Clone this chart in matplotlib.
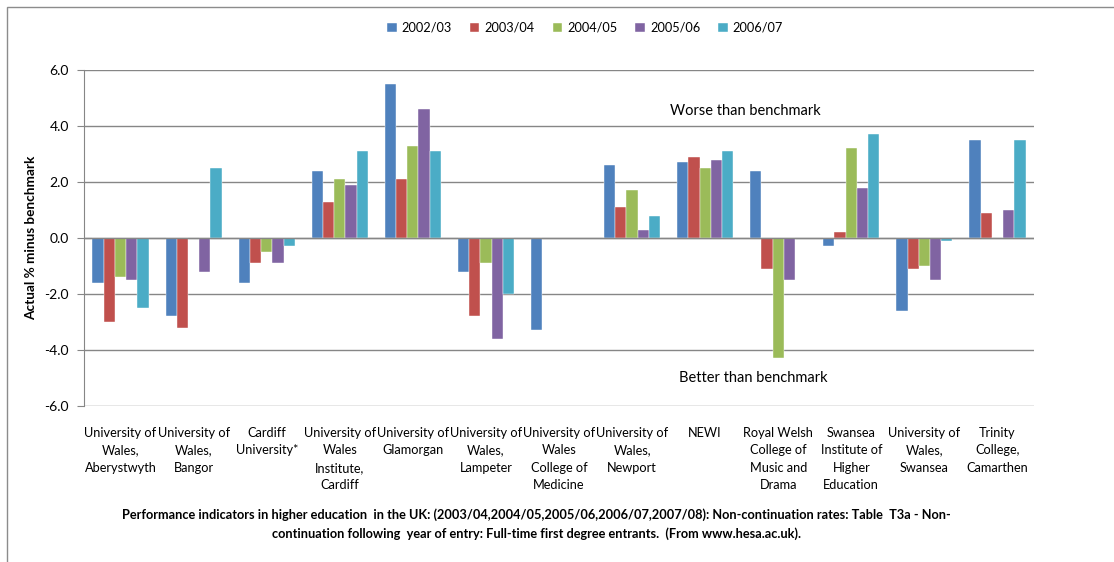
import numpy as np
import matplotlib.pyplot as plt
from matplotlib.patches import Rectangle

plt.rcParams['font.family'] = ['Lato', 'DejaVu Sans']

institutions = [
    'University of\nWales,\nAberystwyth',
    'University of\nWales,\nBangor',
    'Cardiff\nUniversity*',
    'University of\nWales\nInstitute,\nCardiff',
    'University of\nGlamorgan',
    'University of\nWales,\nLampeter',
    'University of\nWales\nCollege of\nMedicine',
    'University of\nWales,\nNewport',
    'NEWI',
    'Royal Welsh\nCollege of\nMusic and\nDrama',
    'Swansea\nInstitute of\nHigher\nEducation',
    'University of\nWales,\nSwansea',
    'Trinity\nCollege,\nCamarthen',
]
years = ['2002/03', '2003/04', '2004/05', '2005/06', '2006/07']
nan = np.nan
y2002 = [-1.6, -2.8, -1.6, 2.4, 5.5, -1.2, -3.3, 2.6, 2.7, 2.4, -0.3, -2.6, 3.5]
y2003 = [-3.0, -3.2, -0.9, 1.3, 2.1, -2.8, nan, 1.1, 2.9, -1.1, 0.2, -1.1, 0.9]
y2004 = [-1.4, nan, -0.5, 2.1, 3.3, -0.9, nan, 1.7, 2.5, -4.3, 3.2, -1.0, nan]
y2005 = [-1.5, -1.2, -0.9, 1.9, 4.6, -3.6, nan, 0.3, 2.8, -1.5, 1.8, -1.5, 1.0]
y2006 = [-2.5, 2.5, -0.3, 3.1, 3.1, -2.0, nan, 0.8, 3.1, nan, 3.7, -0.1, 3.5]
series = [y2002, y2003, y2004, y2005, y2006]
colors = ['#4F81BD', '#C0504D', '#9BBB59', '#8064A2', '#4BACC6']

caption = ('Performance indicators in higher education  in the UK: (2003/04,2004/05,2005/06,2006/07,2007/08): '
           'Non-continuation rates: Table  T3a - Non-\ncontinuation following  year of entry: Full-time first '
           'degree entrants.  (From www.hesa.ac.uk).')

W, H = 1114, 562
fig = plt.figure(figsize=(W / 100, H / 100), dpi=100)
ax = fig.add_axes([84 / W, 1 - 406 / H, (1034 - 84) / W, (406 - 70) / H])

# chart area border (runs off the right/bottom edge in the original)
fig.patches.append(Rectangle((7 / W, -0.1), 1.2, 1 - 7 / H + 0.1, transform=fig.transFigure,
                             fill=False, edgecolor='#8c8c8c', linewidth=1))

x = np.arange(len(institutions))
bw = 1 / 6.5
for i, (vals, c, lab) in enumerate(zip(series, colors, years)):
    ax.bar(x + (i - 2) * bw, vals, bw, color=c, label=lab, edgecolor='white', linewidth=0.3, zorder=3)

ax.set_xlim(-0.5, len(institutions) - 0.5)
ax.set_ylim(-6, 6)
ax.set_yticks(np.arange(-6, 6.1, 2))
ax.set_yticklabels([f'{v:.1f}' for v in np.arange(-6, 6.1, 2)], fontsize=10)
ax.yaxis.grid(True, color='#868686', linewidth=1, zorder=0)
ax.axhline(0, color='#868686', linewidth=1, zorder=4)
ax.set_xticks(x)
ax.set_xticklabels(institutions, fontsize=9.2, linespacing=1.55, va='top')
ax.tick_params(axis='x', length=0, pad=15)
ax.tick_params(axis='y', length=5, color='#868686', pad=6)
for s in ['top', 'right', 'bottom']:
    ax.spines[s].set_visible(False)
ax.spines['left'].set_color('#868686')

ax.set_ylabel('Actual % minus benchmark', fontsize=9.8, fontweight='bold', labelpad=5)

ax.text(8.55, 4.55, 'Worse than benchmark', fontsize=10.5, ha='center', va='center')
ax.text(8.66, -5.0, 'Better than benchmark', fontsize=10.5, ha='center', va='center')

fig.legend(loc='center', bbox_to_anchor=(585 / W, 1 - 28 / H), ncol=5, frameon=False,
           fontsize=9.2, handlelength=0.75, handleheight=0.75, handletextpad=0.4, columnspacing=1.4)

fig.text(536 / W, 1 - 524 / H, caption, ha='center', va='center', fontsize=9.2,
         fontweight='bold', linespacing=1.55)

fig.savefig('out.png', dpi=100)
